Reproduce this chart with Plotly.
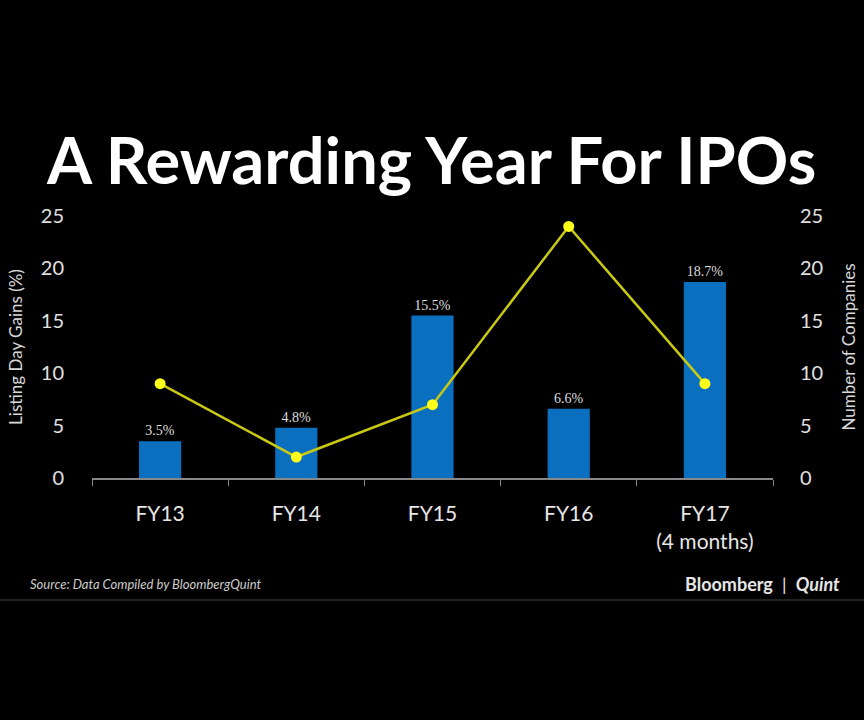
import plotly.graph_objects as go

categories = ["FY13", "FY14", "FY15", "FY16", "FY17<br>(4 months)"]
gains = [3.5, 4.8, 15.5, 6.6, 18.7]
companies = [9, 2, 7, 24, 9]
tick_vals = [0, 5, 10, 15, 20, 25]

FONT = "Lato"
fig = go.Figure()
fig.add_trace(go.Bar(
    x=categories, y=gains, marker=dict(color="#0b6fbf", line=dict(width=0)), width=0.31,
    text=[f"{v}%" for v in gains], textposition="outside",
    textfont=dict(family="Liberation Serif", size=14, color="#dddddd"),
    cliponaxis=False, name="Listing Day Gains",
))
fig.add_trace(go.Scatter(
    x=categories, y=companies, yaxis="y2", mode="lines+markers",
    line=dict(color="#c9c914", width=2.5),
    marker=dict(color="#ffff1a", size=11),
    name="Number of Companies",
))
fig.update_layout(
    width=864, height=720, showlegend=False,
    paper_bgcolor="black", plot_bgcolor="black",
    margin=dict(l=92, r=91, t=216, b=242),
    font=dict(family=FONT, color="#e0e0e0"),
    xaxis=dict(showgrid=False, showline=True, linecolor="#888888", linewidth=2,
               ticks="outside", tickson="boundaries", ticklen=6, tickcolor="#888888",
               tickfont=dict(size=21, color="#e6e6e6"), ticklabelstandoff=16, zeroline=False,
               automargin=False),
    yaxis=dict(range=[0, 25], tickvals=tick_vals, showgrid=False, zeroline=False,
               tickfont=dict(size=20, color="#e0e0e0"), ticklabelstandoff=27, automargin=False,
               title=dict(text="Listing Day Gains (%)", font=dict(size=17, color="#d8d8d8"), standoff=13)),
    yaxis2=dict(range=[0, 25], tickvals=tick_vals, overlaying="y", side="right",
                showgrid=False, zeroline=False, ticklabelstandoff=26, automargin=False,
                tickfont=dict(size=20, color="#e0e0e0"),
                title=dict(text="Number of Companies", font=dict(size=17, color="#d8d8d8"), standoff=20)),
    bargap=0.69,
)
fig.add_annotation(text="<b>A Rewarding Year For IPOs</b>", xref="paper", yref="paper",
                   x=(431-92)/681, y=(720-159-242)/262, xanchor="center", yanchor="middle",
                   showarrow=False, font=dict(family=FONT, size=65, color="white"))
fig.add_annotation(text="<i>Source: Data Compiled by BloombergQuint</i>", xref="paper", yref="paper",
                   x=(28-92)/681, y=(720-584-242)/262, xanchor="left", yanchor="middle",
                   showarrow=False, font=dict(family=FONT, size=13, color="#cccccc"))
fig.add_annotation(text="<b>Bloomberg</b>  |  <i><b>Quint</b></i>", xref="paper", yref="paper",
                   x=(842-92)/681, y=(720-584-242)/262, xanchor="right", yanchor="middle",
                   showarrow=False, font=dict(family=FONT, size=18, color="#e6e6e6"))
fig.add_shape(type="line", xref="paper", yref="paper", x0=-92/681, x1=(864-92)/681,
              y0=(720-600-242)/262, y1=(720-600-242)/262,
              line=dict(color="#222222", width=2))
fig.write_html("out.html")
